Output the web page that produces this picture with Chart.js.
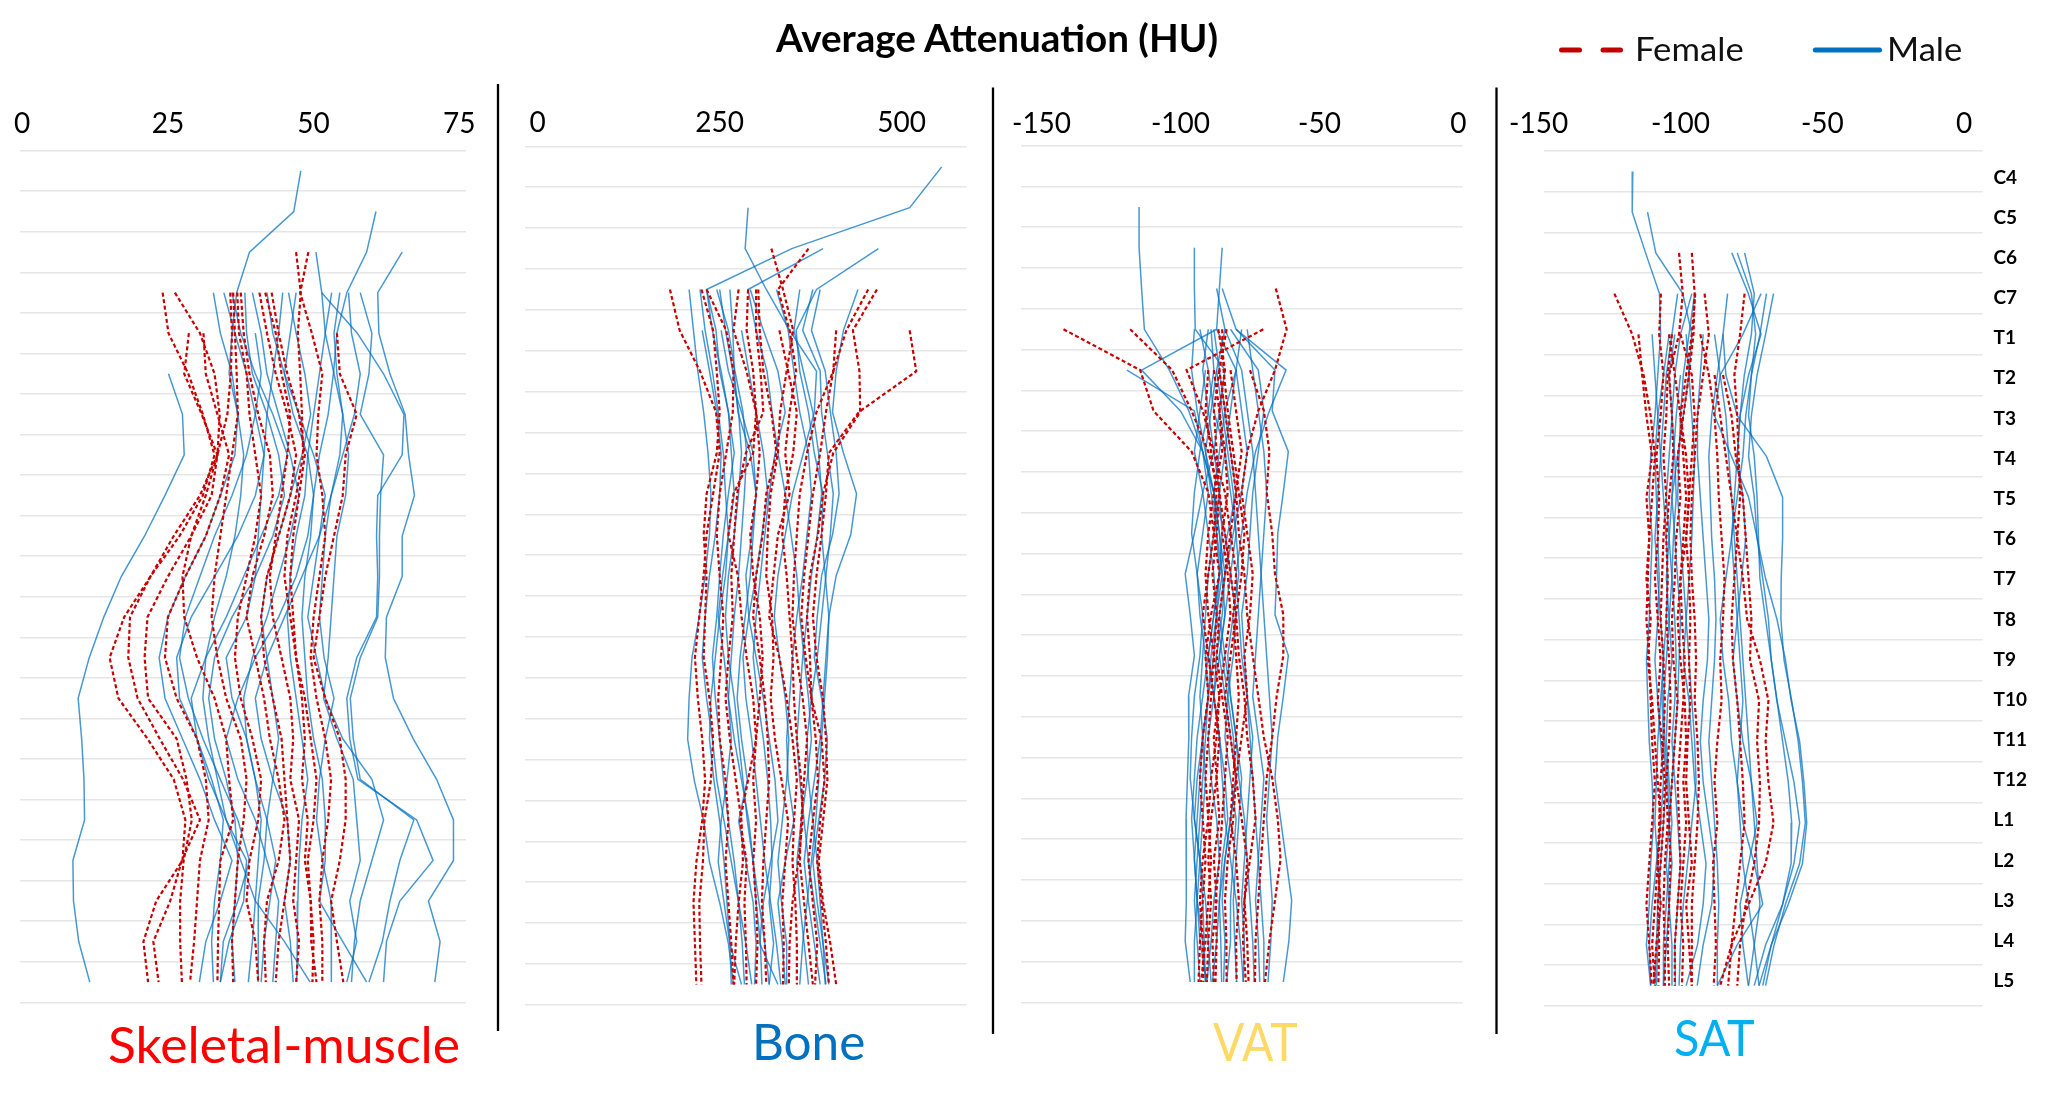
<!DOCTYPE html>
<html>
<head>
<meta charset="utf-8">
<script src="https://cdn.jsdelivr.net/npm/chart.js"></script>
<style>
html,body{margin:0;padding:0;background:#fff;}
#wrap{position:relative;width:2060px;height:1118px;overflow:hidden;background:#fff;}
#wrap canvas{position:absolute;top:0;}
.txt{position:absolute;white-space:nowrap;line-height:1;font-family:Lato,'Open Sans',sans-serif;transform-origin:0 0;}
</style>
</head>
<body>
<div id="wrap"></div>
<script>
const n = null;
const levelLabels = ['C4','C5','C6','C7','T1','T2','T3','T4','T5','T6','T7','T8','T9','T10','T11','T12','L1','L2','L3','L4','L5'];
const seriesNames = ['Female','Male'];
const panelTitles = ['Skeletal-muscle','Bone','VAT','SAT'];
const mainTitle = 'Average Attenuation (HU)';
const muscleTicks = [0,25,50,75];
const boneTicks = [0,250,500];
const vatTicks = [-150,-100,-50,0];
const satTicks = [-150,-100,-50,0];

// ---------- Skeletal muscle (HU) ----------
const muscleFemale = [
 [n,n,n,24.1,25.1,28.5,31,33,31,27,22,17.5,15,16.5,21.5,26,28,27.5,23,20.8,21.6],
 [n,n,n,26.2,30.5,33,33.9,33.5,30.5,26,22,18.5,18.2,19.8,23.6,27.6,30.5,27.4,25.4,22.5,23.4],
 [n,n,n,n,28.6,27.8,30.8,33.5,32.5,29,25,21.5,21,21.6,26.5,28.2,29.1,27.7,27.1,27.1,27.4],
 [n,n,n,n,31.1,31.5,33.5,35.5,34,31.5,28,25,24.5,26.5,30,31.5,32,30.5,30,29.5,28.8],
 [n,n,n,35.7,36,35.8,35.2,33.5,31.5,29,27.5,27.8,30,33,35,35.5,36.2,34,33.8,33.6,33.5],
 [n,n,n,36.2,36.5,36.8,37,36,35,34,33,32.5,33.5,35,37.5,38.5,38,37,36.5,36,36.2],
 [n,n,n,36.9,37.2,38.5,39,40,41,40,38.5,37,36.5,37.5,39.5,41,40.5,39,38.5,40,40.5],
 [n,n,n,37.5,38,39,40.5,42.5,43,41.5,39.5,38.5,40,41.5,42.5,44,45,44,42,41.5,41.8],
 [n,n,n,40.7,42,43.5,45.5,47,46,44,42,41,41.5,43,44.5,45,45.5,46,45,44,43.5],
 [n,n,n,41.7,43.5,44.5,46,45.5,44.5,43.5,42.5,43,44.5,46,46.5,46,47.5,47,46.5,47.5,47],
 [n,n,n,42.8,44,45.5,47.5,48.5,47.5,46.5,46,46.5,47,48,48.5,48,49,48.5,49.5,50,49.8],
 [n,n,47,47.8,47.3,47.7,48,48.2,47,45.5,45,46,47,48.5,49.5,50.5,50,49,49.5,49.6,50.5],
 [n,n,49.1,47.7,49.7,51.5,50.8,50.5,51.5,52,51,50,49.5,50.5,52,53,52.5,51.5,51,51.5,51.5],
 [n,n,n,n,54,54.5,57.4,55.5,55,53.5,52,51,50,52,54.5,55.5,55.5,54.5,53,54,55.1]
];
const muscleMale = [
 [47.8,46.6,39,36.8,36,35.5,37,38,37.5,36.5,35,33,31.5,31,32,33.5,35,37.5,40,45,49.4],
 [n,60.7,59.1,55.7,54,53.4,52.5,51,50,49.5,48.5,48,48.5,49,50,51.5,52,52,51,55,59.1],
 [n,n,50.4,51.4,52,53.5,55,54.5,53,52,51.5,51,51.8,53.5,52,51,50.5,51.5,53,53,53.1],
 [n,n,65.2,61,61.2,63.1,65.7,66.3,67.3,65.2,65.2,62.5,62.3,63.7,67.1,71.1,74,74,69.7,71.7,70.8],
 [n,n,n,51.4,57.5,62,65.5,65.2,61,60.8,61,60.8,57.4,55.7,56.2,57.6,67.7,70.5,64.8,62.5,62],
 [n,n,n,58,60,59.5,58,62,61.5,61.3,61.3,61,58,56.3,56.8,58,67.2,64.8,63.1,61.8,59.5],
 [n,n,n,54.5,53.5,54,55,56,55.5,54,53.5,53,52.5,51.7,54,56.8,57.4,58,56.2,57.4,55.7],
 [n,n,n,n,n,25.1,27.5,27.8,24.5,21,17,14,11.5,9.6,10.2,10.6,10.7,8.7,8.8,9.7,11.6],
 [n,n,n,32.8,34,36,37,36.5,34,31.5,28,25,23.5,24.5,27.5,30.5,33,36,34,31.5,30.4],
 [n,n,n,34.6,36.5,38.5,40,41.5,40,37,33,29,26.5,27,30,32.5,34.5,34,33,32.5,32.8],
 [n,n,n,38.2,38.5,39.5,42,44,45,43,40,36,33,32,33,35,36.5,37,36.5,36,36.5],
 [n,n,n,44.7,44,43,42,41.5,41,40.5,40,38.5,35,36,38.5,40,41,40.5,40,39.5,38.8],
 [n,n,n,45.7,47,48.5,49.5,48,46,44,42,41,42,43,44,43,42,41.5,40.5,40.5,40.5],
 [n,n,n,53.1,52,51,50,49,48.5,47,46,45.5,46,47,48,49,48,47.5,47.3,47.2,47.1],
 [n,n,n,47,46,45,46.5,49,50,49,47,44,40,37,35,37,40,42,44,43.5,43],
 [n,n,n,36,37.5,40,43,45.5,44,41,38,35,31.5,29,30,32,35,38.5,38,35.5,34],
 [n,n,n,42,43,45,47.5,50,52,51,48,45,42,40,41,43,45.5,46,45,46,46.5],
 [n,n,n,39.5,41,42,44,46,47.5,46,44,42,39.5,38,38.5,40,42,43.5,42.5,41.5,41],
 [n,n,n,56,56.5,58,57,55,53,51,50,49,50.5,52,55,60,62,60,58,57,56.5],
 [n,n,n,n,40,41,40,38.5,36,33,30.5,28,27,28.5,31,34,37,39,37,34.5,34]
];

// ---------- Bone (HU) ----------
const boneFemale = [
 [n,n,n,181.7,195,223,245,250,241,232,228,222,216,220,226,230,226,218,214,216,218],
 [n,n,n,225,241,246,250,246,232,228,232,230,228,236,241,238,229,227,222,223,225],
 [n,n,n,232,259,269,268,259,250,246,250,255,252,248,250,258,262,258,262,266,269],
 [n,n,n,276,269,287,300,296,269,262,275,280,287,296,300,289,278,287,284,286,287],
 [n,n,n,289,287,296,300,305,300,292,296,305,309,305,300,296,300,296,300,302,300],
 [n,n,n,303,305,310,321,328,314,309,300,296,305,312,316,318,314,310,308,312,314],
 [n,n,321,337,351,342,333,330,320,316,314,322,324,320,326,335,344,340,336,338,337],
 [n,n,372,330,346,355,346,340,346,330,324,318,332,342,350,356,352,350,354,356,356],
 [n,n,n,454,424,406,383,370,360,356,352,350,356,364,370,366,362,360,366,372,378],
 [n,n,n,466,433,442,443,406,392,385,374,370,374,376,382,385,378,372,378,384,381],
 [n,n,n,n,511,520,441,400,396,390,383,378,383,392,396,398,392,386,392,402,410],
 [n,n,n,n,332,344,356,351,340,336,342,346,350,352,356,362,364,358,350,346,345],
 [n,n,n,300,300,306,310,286,274,270,266,268,262,258,264,272,280,282,276,272,270],
 [n,n,n,n,410,406,396,388,378,372,366,362,368,376,390,394,388,384,390,396,400]
];
const boneMale = [
 [555,511,349,232,245,250,262,270,262,255,250,246,240,244,250,255,262,270,276,281,284],
 [n,289,285,314,346,383,380,365,350,340,330,325,332,340,345,342,336,330,335,342,342],
 [n,n,468,383,355,360,372,380,392,390,395,400,396,392,388,380,372,366,372,380,388],
 [n,n,392,289,300,315,322,330,340,348,356,360,366,372,376,370,362,356,360,366,372],
 [n,n,n,208,214,220,228,234,238,236,230,222,212,208,206,215,228,236,250,262,269],
 [n,n,n,223,230,240,248,255,258,262,258,250,244,238,236,242,250,256,260,264,266],
 [n,n,n,246,262,271,282,287,284,280,276,270,266,262,270,280,290,296,300,306,308],
 [n,n,n,264,268,270,275,292,300,296,292,285,278,274,280,288,276,286,296,300,298],
 [n,n,n,292,310,330,340,326,318,312,306,300,296,302,310,316,320,322,318,324,318],
 [n,n,n,328,344,352,360,372,376,370,364,356,350,346,342,344,352,340,330,336,340],
 [n,n,n,378,364,388,390,398,406,402,396,390,384,376,370,372,378,384,388,392,395],
 [n,n,n,388,376,395,402,410,414,405,390,384,380,390,398,394,386,378,384,392,400],
 [n,n,n,440,420,410,405,420,438,430,410,400,398,394,390,386,382,376,370,364,360],
 [n,n,n,232,240,252,262,266,270,262,254,248,256,262,266,260,252,248,256,264,280],
 [n,n,n,n,252,262,280,296,300,294,286,290,300,310,318,326,330,320,310,305,330],
 [n,n,n,n,280,290,300,310,316,308,300,290,282,286,294,300,306,312,320,328,334],
 [n,n,n,250,258,268,276,280,276,270,262,258,262,270,276,282,288,296,304,312,318],
 [n,n,n,360,352,365,378,386,390,384,376,370,364,360,356,360,366,372,380,388,396],
 [n,n,n,n,226,236,246,252,250,244,236,230,226,232,240,246,256,266,276,286,294]
];

// ---------- VAT (HU) ----------
const vatFemale = [
 [n,n,n,n,-142.1,-114.5,-109.7,-96,-90,-88,-86,-89,-91,-90,-92,-93,-92,-91,-92,-93,-93.5],
 [n,n,n,n,-118.1,-103,-96,-90,-86,-87,-88.5,-87,-88,-86,-87,-89,-90,-89,-90,-91,-92.6],
 [n,n,n,n,-86.4,-84,-86,-84,-83,-85,-83,-82,-84,-86,-88,-87,-86,-88,-87,-88.5,-88],
 [n,n,n,n,-83.4,-86,-84,-82,-80,-82,-84,-86,-87,-85,-83,-84,-85,-86,-87.4,-87,-87.4],
 [n,n,n,-65.7,-61.8,-66,-72,-76,-78,-76,-74,-75,-77,-76,-78,-80,-78,-76,-77,-76,-75.5],
 [n,n,n,n,-70.2,-97.8,-92,-88,-84,-82,-80,-81,-80,-79,-80,-81,-82,-80,-79,-80,-79.8],
 [n,n,n,n,n,-75,-70,-68,-69,-67,-66,-63,-63,-65.4,-67,-69,-70,-71,-72,-73,-73.2],
 [n,n,n,n,n,-82,-80,-78,-80,-79,-77,-76,-74,-72,-70,-67,-65,-64,-66,-68,-69.6],
 [n,n,n,n,n,-86,-88,-87,-86,-84,-82,-80,-79,-77,-76,-74,-73,-75,-77,-77.5,-76.5],
 [n,n,n,n,n,-88,-86,-85,-88,-90,-91,-90,-88,-89,-90,-91,-90,-92,-93,-92,-91.8],
 [n,n,n,n,-85,-84.5,-83,-81,-79,-77,-78,-80,-82,-84,-82,-80,-81,-83,-84,-83.5,-83.4],
 [n,n,n,n,n,-90,-91,-89,-87,-88,-90,-92,-90,-88,-86,-87,-89,-90,-89,-90,-90.5]
];
const vatMale = [
 [n,-114.9,-114.9,-114,-113,-104,-97,-92,-88,-86,-85,-87,-89,-90,-91,-92,-93,-94,-95,-94,-93],
 [n,n,-95,-95,-94.7,-84,-86,-88,-92,-95,-98.3,-96.5,-95,-97.1,-97,-97.5,-98,-98,-97.8,-98.3,-96.5],
 [n,n,-85,-86,-87,-80,-84,-86,-88,-87,-85,-84,-86,-88,-90,-89,-87,-86,-88,-89,-90.5],
 [n,n,n,-87,-84,-87,-89,-91,-88,-86,-84,-85,-87,-88,-86,-84,-83,-85,-86,-85.5,-85.2],
 [n,n,n,n,-87,-114,-100,-92,-88,-84,-82,-80,-81,-83,-84,-82,-80,-81,-82,-82,-83.4],
 [n,n,n,n,n,-119.3,-95,-92,-90,-92,-94,-93,-91,-90,-92,-93,-94,-95,-94,-93,-90.5],
 [n,n,n,n,-80,-66,-67,-61.2,-63,-65,-65.4,-66,-61.2,-63,-65,-66,-64,-62,-60,-61,-63],
 [n,n,n,n,-82,-72,-70,-72,-74,-75,-76,-78,-77,-76,-75,-74,-73,-72,-71,-70,-70],
 [n,n,n,-85,-80,-62,-68,-73,-76,-78,-80,-79,-78,-76,-74,-75,-76,-77,-78,-77,-77.4],
 [n,n,n,n,-93,-90,-88,-84,-82,-80,-79,-81,-83,-82,-80,-78,-79,-80,-81,-80.5,-79.8],
 [n,n,n,n,-90,-92,-90,-88,-86,-85,-86,-87,-85,-83,-81,-80,-82,-84,-86,-87,-88.5],
 [n,n,n,n,-88,-86,-84,-82,-80,-83,-86,-88,-90,-88,-86,-85,-84,-82,-80,-78.5,-77.4],
 [n,n,n,n,-78,-80,-82,-84,-86,-88,-90,-91,-92,-93,-92,-91,-92,-93,-94,-92,-91],
 [n,n,n,n,-84,-78,-76,-74,-73,-72,-71,-70,-69,-68,-67,-68,-69,-68,-67,-67.5,-68.5],
 [n,n,n,n,n,-87,-85,-83,-81,-80,-82,-84,-86,-84,-82,-80,-82,-84,-85,-84,-84.5],
 [n,n,n,n,n,-91,-93,-95,-92,-90,-88,-87,-88,-90,-92,-94,-95,-93,-91,-90,-89],
 [n,n,n,n,-95,-96,-94,-91,-89,-87,-86,-88,-90,-92,-94,-95,-96,-95,-94,-95,-95],
 [n,n,n,n,n,-80,-78,-76,-78,-81,-84,-86,-84,-82,-80,-79,-77,-76,-75,-74,-73.5],
 [n,n,n,n,-76,-74,-72,-70,-69,-70,-71,-72,-73,-74,-72,-70,-71,-72,-73,-72,-71.5],
 [n,n,n,n,-89,-88,-90,-93,-95,-96,-94,-92,-93,-95,-96,-96.5,-95,-93,-92,-91.5,-91]
];

// ---------- SAT (HU) ----------
const satFemale = [
 [n,n,n,-123.3,-117,-113,-110.5,-109,-110,-111,-111.5,-112,-111,-110.5,-110,-109,-110,-111,-112,-111,-110.1],
 [n,n,n,n,-114.8,-113.5,-112,-110,-112,-111,-112,-110.5,-111.5,-110,-109,-108,-107,-108,-109,-110,-109],
 [n,n,n,-106.9,-107.5,-106,-107,-108.5,-107.5,-108,-109,-108,-107,-108,-106.5,-105.5,-106,-107,-108,-107.5,-107.8],
 [n,n,-100.5,-99.2,-100.5,-104,-103,-102.5,-104,-105,-104.5,-105,-104,-103.5,-104,-105,-104.5,-105.5,-106,-105.5,-105.5],
 [n,n,-96,-95,-95.4,-97,-99,-101,-100,-101.5,-102,-103,-102.5,-101,-102,-103,-104,-103.5,-104,-104.5,-104],
 [n,n,n,-94.8,-96,-98,-100,-99,-98,-99,-100,-99.5,-98.5,-99,-100,-101,-100.5,-100,-101,-102,-102],
 [n,n,n,-91.5,-90,-92,-94,-95,-96,-96.5,-96,-95,-94.5,-95,-94,-93.5,-94,-95,-96,-96,-96],
 [n,n,n,n,-104,-102,-100,-98,-97,-98,-100,-101,-100,-98.5,-98,-99,-98,-99,-100,-99,-99.5],
 [n,n,n,-77.4,-79,-81,-80,-79.5,-79,-80,-81,-82,-81.5,-80,-79,-78,-77.4,-79,-80.5,-82,-83.2],
 [n,n,n,n,-93,-90,-88,-87,-86.5,-85.5,-84.5,-85,-86,-85.5,-87,-88,-87,-88.5,-88,-87.5,-88.3],
 [n,n,n,n,n,-85,-82,-80.5,-78,-77,-76,-75,-75.5,-72.3,-73,-72,-72.3,-74,-77,-79,-80],
 [n,n,n,n,n,-88,-86,-84,-82,-80,-78,-76.5,-72,-69,-70,-69,-67.2,-70,-76,-82,-86],
 [n,n,n,n,-103,-104.5,-105,-106,-105,-106,-106.5,-107,-106,-105.5,-106,-107,-107.5,-108,-107,-108.5,-109.5],
 [n,n,n,n,-100,-96,-95,-96,-97,-98,-97,-96.5,-97,-96.5,-97.5,-98,-97,-96,-98,-97,-96]
];
const satMale = [
 [-116.8,-117,-112.3,-107.4,-107,-108,-109,-110.5,-111,-110,-110.5,-111,-112,-111.5,-111,-110,-109.5,-110.5,-111,-112,-110.5],
 [n,-111.6,-108.7,-99.2,-96,-97,-99,-101,-103,-104,-105,-104,-103,-104.5,-105,-104,-103,-104,-105,-106,-106],
 [n,n,-81.9,-76.1,-71.6,-76,-79,-80,-81,-82,-81,-80,-79,-78,-79,-80,-79,-78,-76,-74,-72.3],
 [n,n,-80,-75,-73.5,-75,-77,-78,-80,-82,-84,-86,-85,-83,-82,-80,-78,-74,-71,-80,-87],
 [n,n,-77.4,-74,-75,-77.5,-79,-80,-78,-77,-78.5,-80,-81.5,-80,-78,-75,-73,-76,-79,-78,-76.1],
 [n,n,n,-83.4,-85,-84,-80,-69.7,-64,-64,-64.5,-64.6,-63.5,-60.8,-58.5,-57,-56,-58,-63,-67,-70],
 [n,n,n,-71.6,-78,-86,-88,-82,-76,-73,-70,-66,-63,-61,-58,-56.5,-55.5,-57,-62,-68,-72.3],
 [n,n,n,-69.7,-72,-75,-76,-74,-73,-72.5,-72,-70,-68,-66,-64,-62,-60.8,-61,-64,-68,-71],
 [n,n,n,-67.2,-70,-73,-75,-76,-74,-73,-71,-69,-68,-66,-63,-60,-58,-60,-64,-70,-74],
 [n,n,n,-101,-103,-105,-106,-107,-108,-109,-108,-107,-106,-107,-108,-108.5,-109,-108,-107,-108,-108.5],
 [n,n,n,-96,-100,-102,-103,-104,-105,-104,-103,-102,-101.5,-102,-103,-102,-101,-100,-101,-102,-101.8],
 [n,n,n,n,-104,-106,-108,-109,-108.5,-108,-107.5,-108,-109,-108,-107,-106,-107,-108.5,-110,-111,-110.5],
 [n,n,n,n,-98,-97,-96,-95,-95.5,-96,-97,-98,-99,-97,-96,-95,-93,-91,-92,-94,-98],
 [n,n,n,n,-92,-93,-94,-94,-93,-92,-91,-90,-90.5,-92,-93,-92,-90,-88,-89,-92,-94.1],
 [n,n,n,n,-85,-87,-89,-90,-89.5,-89,-88,-87.5,-88,-89,-90,-89,-88,-87,-86.5,-87,-87],
 [n,n,n,n,n,-100,-101.5,-102.5,-103,-102,-101,-100,-100.5,-101,-102,-103,-104,-105,-104,-103,-103],
 [n,n,n,n,-110,-109,-108,-107,-106,-105,-104.5,-105,-106,-106.5,-106,-105,-106,-107,-108,-108.5,-109],
 [n,n,n,-95,-97,-99,-100,-100.5,-101,-100,-99,-98,-97,-96,-95,-94.5,-96,-97.5,-99,-100,-100.5],
 [n,n,n,n,-88,-86,-84,-83,-82,-81,-80,-79,-78,-77,-76,-75,-74,-73,-72,-74,-76],
 [n,n,n,n,-102,-104,-103,-102,-101.5,-102.5,-103,-104,-105,-106,-105.5,-104.5,-104,-103,-104,-105,-106]
];

// ---------- styles & layout ----------
const FEMALE_COLOR = 'rgb(200,0,0)';
const MALE_COLOR = 'rgba(0,112,192,0.72)';
const GRID_COLOR = '#e6e6e6';
const FONT = 'Lato';

const wrap = document.getElementById('wrap');

const panels = [
  {female: muscleFemale, male: muscleMale, ticks: muscleTicks, areaL: 20, areaR: 466, areaT: 150.7, areaB: 1002.4, xMin: -0.377, xMax: 76.15, tickPad: 10},
  {female: boneFemale, male: boneMale, ticks: boneTicks, areaL: 525, areaR: 966.7, areaT: 146.4, areaB: 1004.9, xMin: -17.4, xMax: 589.3, tickPad: 6.5},
  {female: vatFemale, male: vatMale, ticks: vatTicks, areaL: 1020.7, areaR: 1462.7, areaT: 145.7, areaB: 1002.4, xMin: -157.5, xMax: 1.55, tickPad: 5},
  {female: satFemale, male: satMale, ticks: satTicks, areaL: 1543.8, areaR: 1982.5, areaT: 151.1, areaB: 1006, xMin: -148.17, xMax: 6.45, tickPad: 10, rightLabels: true}
];

function makeChart(p) {
  const canvasLeft = Math.floor(p.areaL - 70);
  const padL = p.areaL - canvasLeft;
  const y2W = p.rightLabels ? 60 : 0;
  const padR = 20;
  const canvasW = Math.ceil(p.areaR - p.areaL + padL + padR + y2W);
  const cv = document.createElement('canvas');
  cv.width = canvasW; cv.height = 1118;
  cv.style.left = canvasLeft + 'px';
  cv.style.width = canvasW + 'px'; cv.style.height = '1118px';
  wrap.appendChild(cv);
  const padRight = canvasW - (p.areaR - canvasLeft) - y2W;

  const datasets = [];
  p.female.forEach(arr => datasets.push({
    label: seriesNames[0], data: arr, borderColor: FEMALE_COLOR, borderWidth: 2.2,
    borderDash: [4, 2.6], pointRadius: 0, fill: false, tension: 0
  }));
  p.male.forEach(arr => datasets.push({
    label: seriesNames[1], data: arr, borderColor: MALE_COLOR, borderWidth: 1.5,
    pointRadius: 0, fill: false, tension: 0
  }));

  const scales = {
    x: {
      type: 'linear', position: 'top', min: p.xMin, max: p.xMax,
      grid: {display: false, drawTicks: false}, border: {display: false},
      ticks: {padding: p.tickPad, color: '#000', autoSkip: false, maxRotation: 0,
              font: {family: FONT, size: 28}, callback: v => String(v)},
      afterBuildTicks: s => { s.ticks = p.ticks.map(v => ({value: v})); },
      afterFit: s => { s.height = p.areaT; }
    },
    y: {
      type: 'category', position: 'left', offset: true,
      grid: {display: true, offset: true, color: GRID_COLOR, lineWidth: 1.6, drawTicks: false},
      border: {display: false}, ticks: {display: false},
      afterFit: s => { s.width = 0; }
    }
  };
  if (p.rightLabels) {
    // vertebral level labels printed down the right-hand side
    scales.y2 = {
      type: 'linear', position: 'right', reverse: true, min: -0.657, max: 20.622,
      grid: {display: false, drawTicks: false}, border: {display: false},
      ticks: {padding: 11, color: '#000', autoSkip: false,
              font: {family: FONT, size: 19, weight: 'bold'},
              callback: v => levelLabels[Math.round(v)]},
      afterBuildTicks: s => { s.ticks = levelLabels.map((_, i) => ({value: i})); },
      afterFit: s => { s.width = y2W; }
    };
  }

  new Chart(cv.getContext('2d'), {
    type: 'line',
    data: {labels: levelLabels, datasets},
    options: {
      responsive: false, animation: false, indexAxis: 'y',
      layout: {padding: {left: padL, right: padRight, top: 0, bottom: 1118 - p.areaB}},
      plugins: {legend: {display: false}, tooltip: {enabled: false}, title: {display: false}},
      elements: {point: {radius: 0}},
      scales
    }
  });
}
panels.forEach(makeChart);

// ---------- overlay: separators & legend samples ----------
const svgNS = 'http://www.w3.org/2000/svg';
const svg = document.createElementNS(svgNS, 'svg');
svg.setAttribute('width', 2060); svg.setAttribute('height', 1118);
svg.style.position = 'absolute'; svg.style.left = '0'; svg.style.top = '0';
function line(x1, y1, x2, y2, color, w, cap) {
  const l = document.createElementNS(svgNS, 'line');
  l.setAttribute('x1', x1); l.setAttribute('y1', y1); l.setAttribute('x2', x2); l.setAttribute('y2', y2);
  l.setAttribute('stroke', color); l.setAttribute('stroke-width', w);
  if (cap) l.setAttribute('stroke-linecap', cap);
  svg.appendChild(l);
}
line(498, 84, 498, 1031, '#000', 2.3);
line(993, 87.5, 993, 1034, '#000', 2.3);
line(1496.5, 87.5, 1496.5, 1034, '#000', 2.3);
line(1561.5, 50, 1579.5, 50, '#C00000', 5, 'round');
line(1603, 50, 1620.5, 50, '#C00000', 5, 'round');
line(1815.3, 50, 1879.5, 50, '#0070C0', 5, 'round');
wrap.appendChild(svg);

// ---------- text ----------
function placeText(str, x0, x1, capTop, baseline, color, bold) {
  const fs = (baseline - capTop) / 0.7165;
  const el = document.createElement('div');
  el.className = 'txt';
  el.textContent = str;
  el.style.fontSize = fs + 'px';
  el.style.fontWeight = bold ? '700' : '400';
  el.style.color = color;
  el.style.left = x0 + 'px';
  el.style.top = '0px';
  wrap.appendChild(el);
  const w = el.getBoundingClientRect().width;
  el.style.top = (baseline - 0.887 * fs) + 'px';
  el.style.transform = 'scaleX(' + ((x1 - x0) / w) + ')';
}
placeText(mainTitle, 776, 1218, 25, 52.9, '#000', true);
placeText(seriesNames[0], 1634.7, 1743.4, 37.5, 61.4, '#111', false);
placeText(seriesNames[1], 1887.3, 1962.6, 37.5, 61.4, '#111', false);
placeText(panelTitles[0], 108, 460, 1028, 1064, '#FF0000', false);
placeText(panelTitles[1], 751.7, 865, 1024.5, 1060.5, '#0070C0', false);
placeText(panelTitles[2], 1212.7, 1297.3, 1024.5, 1061.6, '#FFD966', false);
placeText(panelTitles[3], 1673.6, 1754.3, 1020.5, 1056.9, '#00B0F0', false);
</script>
</body>
</html>
